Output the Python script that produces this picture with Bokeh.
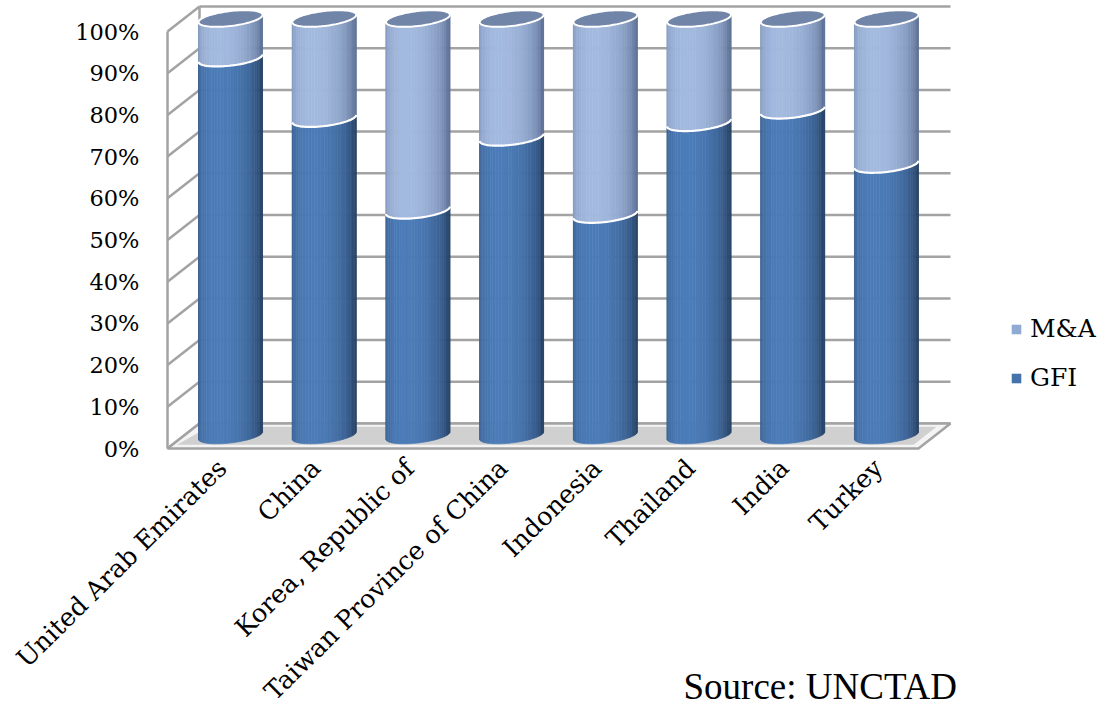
import numpy as np
from bokeh.plotting import figure
from bokeh.models import Range1d, FixedTicker, Legend, LegendItem, Label, PrintfTickFormatter, ColumnDataSource
from bokeh.embed import file_html
from bokeh.resources import INLINE

# ---------------- data ----------------
countries = ["United Arab Emirates", "China", "Korea, Republic of", "Taiwan Province of China",
             "Indonesia", "Thailand", "India", "Turkey"]
gfi = [90.5, 76.0, 54.0, 71.5, 53.0, 75.0, 78.0, 65.0]
ma = [round(100 - g, 1) for g in gfi]
y_ticks = [0, 10, 20, 30, 40, 50, 60, 70, 80, 90, 100]
series = ["GFI", "M&A"]
source_note = "Source: UNCTAD"

# ---------------- layout / style ----------------
W, H = 1101, 712
AXIS_PX = 457              # px where the category axis sits
PXX, PXY = 93.7, 4.17      # px per category, px per percent
X0, Y0 = 221.6, 448.0      # px of first tick / of 0 % on front plane
SERIF = "DejaVu Serif"

x_lo, x_hi = (0 - X0) / PXX, (W - X0) / PXX
y_lo, y_hi = (Y0 - H) / PXY, Y0 / PXY

# depth offsets (3-D look): back wall & cylinder mid-plane
DXB, DYB = 32 / PXX, 25 / PXY
DYM = 13 / PXY
CX_OFF = 0.09
BOX_L = (167 - X0) / PXX
BOX_R = (950 - X0) / PXX - DXB
R = 32 / PXX
r = 7.5 / PXY
SH = 0.115 * PXX / PXY       # shear (tilt of ellipses)

p = figure(width=W, height=H, x_range=Range1d(x_lo, x_hi), y_range=Range1d(y_lo, y_hi),
           output_backend="svg", toolbar_location=None,
           min_border_left=0, min_border_right=0, min_border_top=0, min_border_bottom=0)
p.outline_line_color = None
p.xgrid.visible = False
p.ygrid.visible = False
p.background_fill_color = "white"
p.border_fill_color = "white"

# ---- box: back wall gridlines, side wall diagonals, floor ----
gx, gy = [], []
for v in y_ticks:
    gx.append([BOX_L + DXB, BOX_R + DXB]); gy.append([v + DYB, v + DYB])
    gx.append([BOX_L, BOX_L + DXB]); gy.append([v, v + DYB])
gx.append([BOX_L, BOX_L]); gy.append([y_ticks[0], y_ticks[-1]])
gx.append([BOX_L + DXB, BOX_L + DXB]); gy.append([y_ticks[0] + DYB, y_ticks[-1] + DYB])
p.multi_line(gx, gy, line_color="#a3a3a3", line_width=2.5)

floor_x = [BOX_L, BOX_R, BOX_R + DXB, BOX_L + DXB]
floor_y = [0, 0, DYB, DYB]
p.patch(floor_x, floor_y, fill_color="#f4f4f4", line_color="#a3a3a3", line_width=2.5)
p.patch([BOX_L + 0.1, BOX_R - 0.05, BOX_R + DXB - 0.15, BOX_L + DXB + 0.1],
        [0.9, 0.9, DYB - 0.8, DYB - 0.8], fill_color="#d0d0d0", line_color=None)


def hex2rgb(h):
    h = h.lstrip("#")
    return np.array([int(h[i:i + 2], 16) for i in (0, 2, 4)], float)


def mix(c1, c2, w):
    c = hex2rgb(c1) * (1 - w) + hex2rgb(c2) * w
    return "#%02x%02x%02x" % tuple(int(round(t)) for t in c)


N = 30
phis = np.linspace(np.pi, 0, N + 1)
PHI_L = np.pi / 2 + 0.35


def f(phi):
    return -r * np.sin(phi) + SH * R * np.cos(phi)


shades = {"GFI": ("#284469", "#4c7cb8"), "M&A": ("#5f7399", "#a3badf")}

segs = {"GFI": [(0.0, g) for g in gfi], "M&A": [(g, g + m) for g, m in zip(gfi, ma)]}
for name in series:
    dark, light = shades[name]
    xs, ys, cols = [], [], []
    for i, (a, b) in enumerate(segs[name]):
        cx = i + CX_OFF
        a_, b_ = a + DYM, b + DYM
        for k in range(N):
            p1, p2 = phis[k], phis[k + 1]
            xa, xb = cx + R * np.cos(p1), cx + R * np.cos(p2)
            xs.append([xa, xb, xb, xa])
            ys.append([a_ + f(p1), a_ + f(p2), b_ + f(p2), b_ + f(p1)])
            w = max(0.0, np.cos((p1 + p2) / 2 - PHI_L)) ** 0.8
            cols.append(mix(dark, light, w))
    src = ColumnDataSource(dict(xs=xs, ys=ys, c=cols))
    p.patches("xs", "ys", source=src, fill_color="c", line_color="c", line_width=0.6)

# white boundary arcs on top of GFI
ax_, ay_ = [], []
arc = np.linspace(np.pi, 0, 40)
for i, g in enumerate(gfi):
    cx = i + CX_OFF
    ax_.append(list(cx + R * np.cos(arc)))
    ay_.append(list(g + DYM + f(arc)))
p.multi_line(ax_, ay_, line_color="white", line_width=2.2)

# top caps
full = np.linspace(0, 2 * np.pi, 80)
tx, ty = [], []
for i, (g, m) in enumerate(zip(gfi, ma)):
    cx = i + CX_OFF
    tx.append(list(cx + R * np.cos(full)))
    ty.append(list(g + m + DYM - r * np.sin(full) + SH * R * np.cos(full)))
p.patches(tx, ty, fill_color="#7185a9", line_color="white", line_width=2.0)

# ---- axes ----
p.yaxis.fixed_location = BOX_L
p.yaxis.ticker = FixedTicker(ticks=y_ticks)
p.yaxis.formatter = PrintfTickFormatter(format="%d%%")
p.yaxis.axis_line_color = None
p.yaxis.major_tick_line_color = None
p.yaxis.minor_tick_line_color = None
p.yaxis.major_label_standoff = 22
p.yaxis.major_label_text_font = SERIF
p.yaxis.major_label_text_font_size = "22.5px"
p.yaxis.major_label_text_color = "black"

p.xaxis.fixed_location = (Y0 - AXIS_PX) / PXY
p.xaxis.ticker = FixedTicker(ticks=list(range(len(countries))))
p.xaxis.major_label_overrides = {i: c for i, c in enumerate(countries)}
p.xaxis.axis_line_color = None
p.xaxis.major_tick_line_color = None
p.xaxis.minor_tick_line_color = None
p.xaxis.major_label_orientation = 0.78
p.xaxis.major_label_standoff = 0
p.xaxis.major_label_text_font = SERIF
p.xaxis.major_label_text_font_size = "25.5px"
p.xaxis.major_label_text_color = "black"

# ---- legend ----
nan = [np.nan]
r_ma = p.quad(left=nan, right=nan, top=nan, bottom=nan, fill_color="#8faad3", line_color=None)
r_gfi = p.quad(left=nan, right=nan, top=nan, bottom=nan, fill_color="#4672ab", line_color=None)
legend = Legend(items=[LegendItem(label=series[1], renderers=[r_ma], index=0),
                       LegendItem(label=series[0], renderers=[r_gfi], index=0)],
                location=(1010, 712 - 392), border_line_color=None, background_fill_alpha=0,
                padding=0, margin=0, spacing=20, glyph_width=12, glyph_height=12,
                label_height=28, label_standoff=8,
                label_text_font=SERIF, label_text_font_size="25px", label_text_color="black")
p.add_layout(legend)

p.add_layout(Label(x=(683 - X0) / PXX, y=(Y0 - 686) / PXY, text=source_note,
                   text_font="Liberation Serif", text_font_size="37px", text_color="black",
                   text_baseline="alphabetic", text_align="left"))

open("out.html", "w").write(file_html(p, INLINE))
